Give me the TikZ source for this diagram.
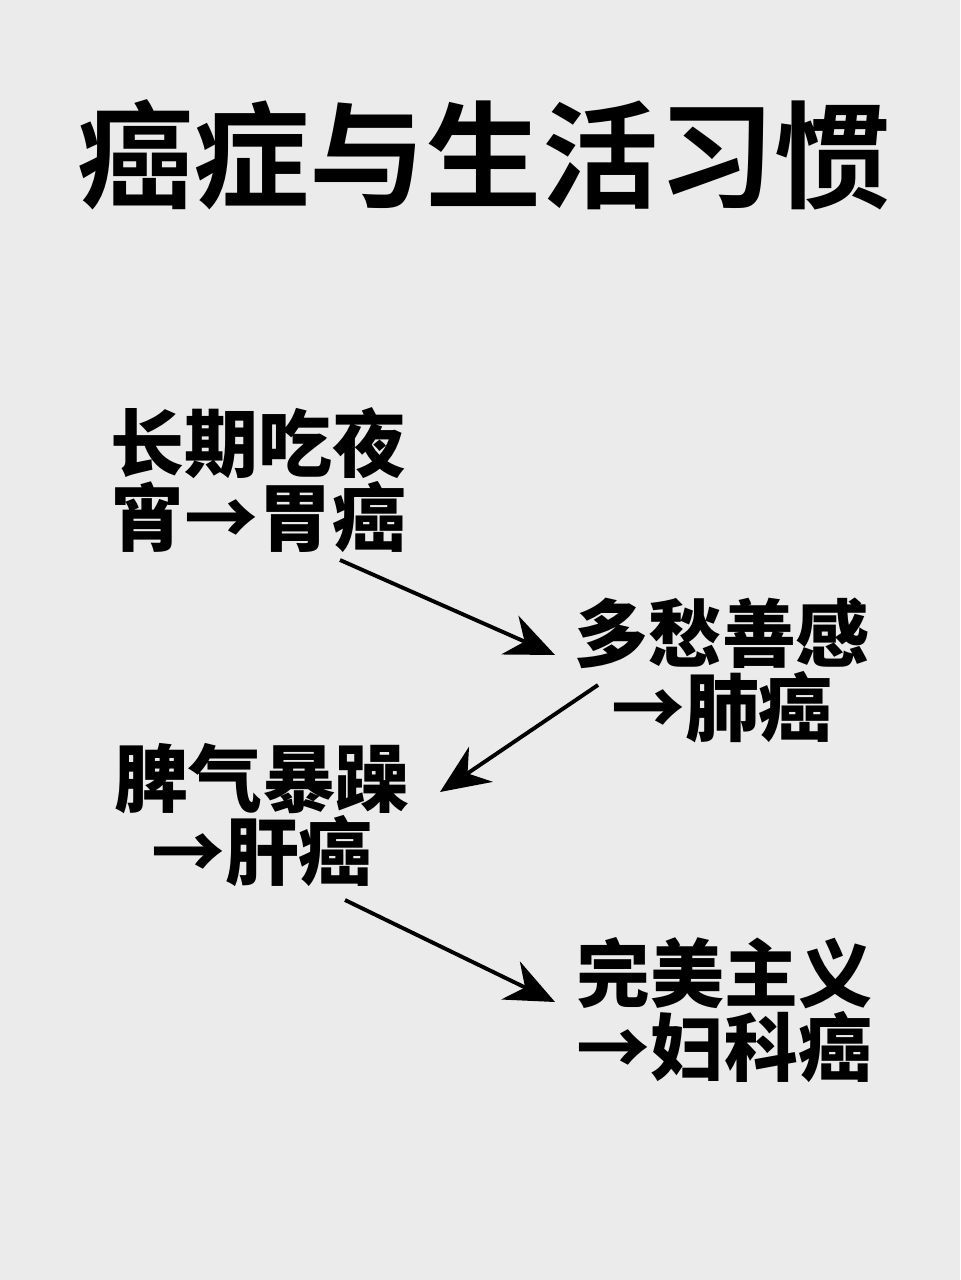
\documentclass[tikz,border=0pt]{standalone}
\usepackage{fontspec}
\newfontfamily\cjk{Noto Sans CJK SC}
\newfontfamily\cjkbold{Noto Sans CJK SC Bold}
\definecolor{bgGray}{HTML}{EBEBEB}
\tikzset{
  habit/.style={font=\cjk\bfseries\fontsize{21}{23}\selectfont, inner sep=0pt, text=black},
  arrow/.style={line width=1.1pt,-{Stealth[length=14pt,width=12pt]}}
}
\usetikzlibrary{arrows.meta}
\begin{document}
\begin{tikzpicture}[x=0.01cm,y=-0.01cm]
  \fill[bgGray] (0,0) rectangle (960,1280);
  \node (title) [font=\cjkbold\fontsize{33}{35}\selectfont] at (484,155) {癌症与生活习惯};

  \node (night) [habit, align=left, anchor=west] at (110,480) {长期吃夜\\[-2pt]宵→胃癌};
  \node (worry) [habit, align=center] at (722,670) {多愁善感\\[-2pt]→肺癌};
  \node (temper) [habit, align=center] at (262,815) {脾气暴躁\\[-2pt]→肝癌};
  \node (perfect) [habit, align=left, anchor=west] at (576,1010) {完美主义\\[-2pt]→妇科癌};

  \coordinate (a1) at (340,560);
  \coordinate (b1) at (555,655);
  \coordinate (a2) at (598,685);
  \coordinate (b2) at (440,792);
  \coordinate (a3) at (345,900);
  \coordinate (b3) at (555,1002);

  \draw [arrow] (a1) -- (b1);
  \draw [arrow] (a2) -- (b2);
  \draw [arrow] (a3) -- (b3);
\end{tikzpicture}
\end{document}
